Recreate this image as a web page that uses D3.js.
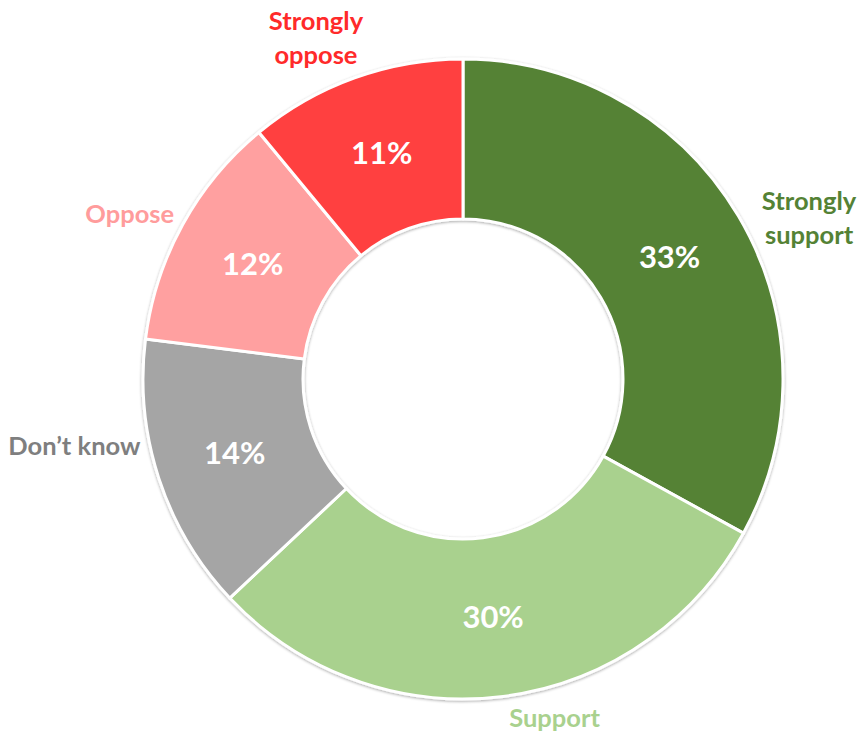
<!DOCTYPE html>
<html>
<head>
<meta charset="utf-8">
<script src="https://cdn.jsdelivr.net/npm/d3@7"></script>
<style>
    body { margin: 0; background: #fff; }
    svg text { font-family: Lato, "Open Sans", sans-serif; font-weight: bold; }
</style>
</head>
<body>
<div id="chart"></div>
<script>
// data, clockwise from 12 o'clock
var categories = ["Strongly support", "Support", "Don\u2019t know", "Oppose", "Strongly oppose"];
var values = [33, 30, 14, 12, 11];
var sliceColors = ["#548235", "#a9d18e", "#a5a5a5", "#ffa0a0", "#ff4040"];
var labelColors = ["#548235", "#a9d18e", "#7f7f7f", "#ff9c9c", "#ff2a2a"];
var labelLines = [["Strongly", "support"], ["Support"], ["Don\u2019t know"], ["Oppose"], ["Strongly", "oppose"]];

var width = 861, height = 738;
var cx = 463, cy = 379;
var outerR = 320, innerR = 160;
// excel "best fit" moves the outside labels a little off the mid angle (degrees)
var labelNudge = [5.5, -8, 8.4, -2.3, -3.4];

var svg = d3.select("#chart").append("svg")
    .attr("width", width)
    .attr("height", height);

var defs = svg.append("defs");
var shadow = defs.append("filter").attr("id", "shade")
    .attr("x", "-10%").attr("y", "-10%").attr("width", "120%").attr("height", "120%");
shadow.append("feGaussianBlur").attr("in", "SourceAlpha").attr("stdDeviation", 1.5);
shadow.append("feOffset").attr("dx", 0).attr("dy", 1).attr("result", "b");
shadow.append("feComponentTransfer").append("feFuncA").attr("type", "linear").attr("slope", 0.35);
var merge = shadow.append("feMerge");
merge.append("feMergeNode");
merge.append("feMergeNode").attr("in", "SourceGraphic");

var pie = d3.pie().sort(null).value(function (d) { return d; });
var arcs = pie(values);
var arc = d3.arc().innerRadius(innerR).outerRadius(outerR);

var g = svg.append("g").attr("transform", "translate(" + cx + "," + cy + ")");

g.append("g").attr("filter", "url(#shade)")
    .selectAll("path")
    .data(arcs)
    .enter()
    .append("path")
    .attr("d", arc)
    .attr("fill", function (d, i) { return sliceColors[i]; })
    .attr("stroke", "#fff")
    .attr("stroke-width", 3)
    .attr("stroke-linejoin", "round");

// percent labels in the middle of the ring
g.selectAll(".pct")
    .data(arcs)
    .enter()
    .append("text")
    .attr("class", "pct")
    .attr("x", function (d) { return arc.centroid(d)[0]; })
    .attr("y", function (d) { return arc.centroid(d)[1]; })
    .attr("dy", "0.36em")
    .attr("text-anchor", "middle")
    .attr("fill", "#fff")
    .style("font-size", "31px")
    .text(function (d) { return d.value + "%"; });

// category labels outside: push the box out along the angle until it clears the ring
var touchR = 326;
var lineH = 34;
arcs.forEach(function (d, i) {
    var lab = g.append("text")
        .attr("text-anchor", "middle")
        .attr("fill", labelColors[i])
        .style("font-size", "25.5px");
    labelLines[i].forEach(function (s, k) {
        lab.append("tspan").attr("x", 0).attr("y", k * lineH).text(s);
    });
    var bb = lab.node().getBBox();
    var a = (d.startAngle + d.endAngle) / 2 + labelNudge[i] * Math.PI / 180;
    var ux = Math.sin(a), uy = -Math.cos(a);
    var lo = 0, hi = 800, t, px, py;
    for (var it = 0; it < 40; it++) {
        t = (lo + hi) / 2;
        px = t * ux; py = t * uy;
        // nearest point of the box to the centre
        var nx = Math.max(px - bb.width / 2, Math.min(0, px + bb.width / 2));
        var ny = Math.max(py - bb.height / 2, Math.min(0, py + bb.height / 2));
        if (Math.sqrt(nx * nx + ny * ny) < touchR) lo = t; else hi = t;
    }
    // shift so that the bbox centre sits on (px, py)
    var ox = px - (bb.x + bb.width / 2);
    var oy = py - (bb.y + bb.height / 2);
    lab.attr("transform", "translate(" + ox + "," + oy + ")");
});
</script>
</body>
</html>
